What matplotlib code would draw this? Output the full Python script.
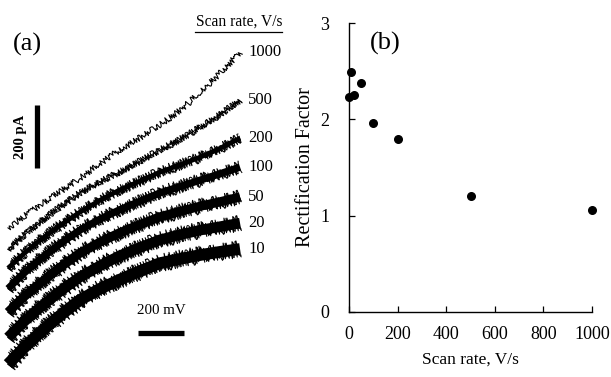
import matplotlib
matplotlib.use("Agg")
import matplotlib.pyplot as plt

plt.rcParams['font.family'] = ['Liberation Serif', 'DejaVu Serif']

# ---------------- data ----------------
# Panel (a): I-V traces (voltage in mV, current in pA, stacked)
voltage_mV = [-500, -430, -360, -275, -190, -105, -20, 70, 155, 245, 330, 415, 500]
scan_labels = ["1000", "500", "200", "100", "50", "20", "10"]
trace_1000 = [483, 520, 556, 598, 641, 686, 730, 770, 810, 858, 914, 975, 1041]
trace_500 = [415, 460, 502, 550, 594, 628, 660, 695, 730, 765, 803, 843, 889]
trace_200 = [355, 402, 445, 491, 533, 570, 603, 632, 660, 684, 708, 736, 768]
trace_100 = [290, 340, 385, 433, 476, 510, 540, 568, 594, 615, 635, 655, 676]
trace_50 = [215, 265, 308, 358, 403, 437, 467, 494, 518, 536, 552, 566, 581]
trace_20 = [135, 186, 232, 282, 327, 362, 394, 421, 445, 462, 476, 487, 498]
trace_10 = [50, 103, 152, 205, 254, 289, 318, 346, 371, 385, 397, 407, 416]
traces = [trace_1000, trace_500, trace_200, trace_100, trace_50, trace_20, trace_10]

# Panel (b): rectification factor vs scan rate
scan_rate = [1, 10, 20, 50, 100, 200, 500, 1000]
rect_factor = [2.23, 2.49, 2.25, 2.38, 1.96, 1.80, 1.20, 1.06]

# ---------------- figure ----------------
fig = plt.figure(figsize=(6.11, 3.77), dpi=100)

# ---- panel (a) ----
ax1 = fig.add_axes([0, 0, 260 / 611, 1])
ax1.set_xlim(-534.5, 586)
ax1.set_ylim(9.5, 1206.5)
ax1.axis('off')

core_widths = [0.0, 0.6, 3.4, 5.2, 6.6, 7.6, 8.4]   # points
for tr, lw in zip(traces, core_widths):
    core_px = lw * 100 / 72
    if lw > 0:
        ax1.plot(voltage_mV, tr, color='black', lw=lw, solid_capstyle='butt',
                 solid_joinstyle='round')
    sc = core_px / 2 + 3.0
    fr, = ax1.plot(voltage_mV, tr, color='black', lw=0.8)
    fr.set_sketch_params(scale=sc, length=1.4, randomness=3)
    if lw > 0:
        fr2, = ax1.plot(voltage_mV, tr, color='black', lw=0.7)
        fr2.set_sketch_params(scale=sc * 0.9, length=2.1, randomness=3)

for lab, tr in zip(scan_labels, traces):
    ax1.annotate(lab, xy=(voltage_mV[-1], tr[-1]), xytext=(6, 0),
                 textcoords='offset points', va='center', ha='left', fontsize=12)

# header with underline
fig.text(239 / 611, 1 - 22 / 377, "Scan rate, V/s", ha='center', va='center', fontsize=11.2)
fig.add_artist(plt.Line2D([195 / 611, 282 / 611], [1 - 32 / 377, 1 - 32 / 377],
                          color='black', lw=0.9))

# (a) label
fig.text(13 / 611, 1 - 44 / 377, "(a)", ha='left', va='center', fontsize=19)

# scale bars (200 pA vertical, 200 mV horizontal)
bar_v_x = -373
bar_v_y0 = 673
ax1.plot([bar_v_x, bar_v_x], [bar_v_y0, bar_v_y0 + 200], color='black', lw=3.8,
         solid_capstyle='butt')
ax1.text(-445, bar_v_y0 + 100, "200 pA", rotation=90, ha='center', va='center',
         fontsize=10.5, fontweight='bold')
bar_h_x0 = 60
bar_h_y = 150
ax1.plot([bar_h_x0, bar_h_x0 + 200], [bar_h_y, bar_h_y], color='black', lw=3.8,
         solid_capstyle='butt')
ax1.text(bar_h_x0 + 100, bar_h_y + 70, "200 mV", ha='center', va='center', fontsize=10.8)

# ---- panel (b) ----
ax2 = fig.add_axes([349 / 611, 65 / 377, 243 / 611, 289 / 377])
ax2.scatter(scan_rate, rect_factor, s=30, color='black', zorder=3, clip_on=False)
ax2.set_xlim(0, 1000)
ax2.set_ylim(0, 3)
ax2.set_xticks([0, 200, 400, 600, 800, 1000])
ax2.set_yticks([0, 1, 2, 3])
ax2.spines['top'].set_visible(False)
ax2.spines['right'].set_visible(False)
for s in ['left', 'bottom']:
    ax2.spines[s].set_linewidth(1.0)
ax2.tick_params(direction='in', length=4, width=0.9, labelsize=13)
ax2.tick_params(axis='x', pad=10)
ax2.tick_params(axis='y', pad=14)
ax2.set_xlabel("Scan rate, V/s", fontsize=12.5, labelpad=6)
ax2.set_ylabel("Rectification Factor", fontsize=14.5, labelpad=4)
ax2.text(0.086, 0.93, "(b)", transform=ax2.transAxes, fontsize=19, ha='left', va='center')

fig.savefig("out.png", dpi=100, facecolor='white')
